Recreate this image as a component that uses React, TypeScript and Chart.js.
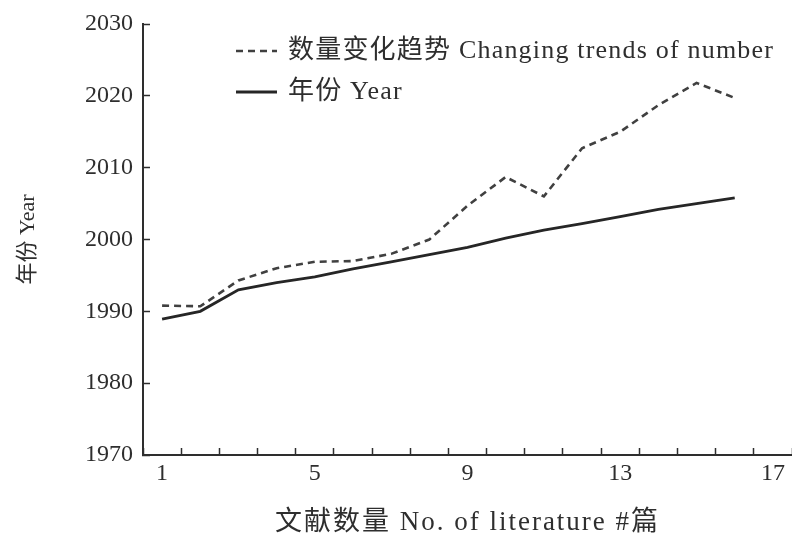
import React, { useEffect, useRef } from 'react';
import { Chart, registerables } from 'chart.js';

Chart.register(...registerables);

// ---- data ----
const categories = ['1', '2', '3', '4', '5', '6', '7', '8', '9', '10', '11', '12', '13', '14', '15', '16', '17'];
const shownXLabels = ['1', '5', '9', '13', '17'];
const trendValues = [1990.8, 1990.7, 1994.3, 1996.0, 1996.9, 1997.0, 1998.0, 2000.0, 2004.7, 2008.7, 2006.0, 2012.7, 2015.0, 2018.7, 2021.8, 2019.7];
const yearValues = [1988.9, 1990.0, 1993.0, 1994.0, 1994.8, 1995.9, 1996.9, 1997.9, 1998.9, 2000.2, 2001.3, 2002.2, 2003.2, 2004.2, 2005.0, 2005.8];
const yTickValues = [1970, 1980, 1990, 2000, 2010, 2020, 2030];
const seriesLabels = ['数量变化趋势 Changing trends of number', '年份 Year'];
const xTitle = '文献数量 No. of literature #篇';
const yTitle = '年份 Year';

const FONT = "'Liberation Serif', 'Noto Sans CJK SC', serif";
const INK = '#2e2e2e';

const legendPlugin = {
  id: 'insideLegend',
  afterDraw(chart: any) {
    const { ctx, chartArea } = chart;
    ctx.save();
    chart.data.datasets.forEach((ds: any, i: number) => {
      const y = chartArea.top + 27 + i * 41;
      const x0 = chartArea.left + 93;
      ctx.beginPath();
      ctx.setLineDash(ds.borderDash || []);
      ctx.strokeStyle = ds.borderColor;
      ctx.lineWidth = ds.borderWidth;
      ctx.moveTo(x0, y);
      ctx.lineTo(x0 + 41, y);
      ctx.stroke();
      ctx.setLineDash([]);
      ctx.fillStyle = INK;
      ctx.font = `26px ${FONT}`;
      (ctx as any).letterSpacing = '1.2px';
      ctx.textBaseline = 'middle';
      ctx.textAlign = 'left';
      ctx.fillText(ds.label, x0 + 52, y);
    });
    ctx.restore();
  },
};

function spacedTitle(scale: any, spacing: string) {
  if (scale.__spaced) return;
  const orig = scale.drawTitle;
  scale.drawTitle = function (...args: any[]) {
    const ctx = this.ctx;
    ctx.save();
    ctx.letterSpacing = spacing;
    orig.apply(this, args);
    ctx.restore();
  };
  scale.__spaced = true;
}

export default function App() {
  const canvasRef = useRef<HTMLCanvasElement | null>(null);

  useEffect(() => {
    document.body.style.margin = '0';
    const canvas = canvasRef.current;
    if (!canvas) return;
    const chart = new Chart(canvas, {
      type: 'line',
      data: {
        labels: categories,
        datasets: [
          {
            label: seriesLabels[0],
            data: trendValues,
            borderColor: '#404040',
            borderWidth: 2.6,
            borderDash: [7, 5],
            pointRadius: 0,
            tension: 0,
            fill: false,
          },
          {
            label: seriesLabels[1],
            data: yearValues,
            borderColor: '#262626',
            borderWidth: 2.8,
            pointRadius: 0,
            tension: 0,
            fill: false,
          },
        ],
      },
      options: {
        animation: false,
        responsive: true,
        maintainAspectRatio: false,
        layout: { padding: { left: 0, right: 0, top: 24, bottom: 0 } },
        plugins: {
          legend: { display: false },
          tooltip: { enabled: false },
        },
        scales: {
          x: {
            type: 'category',
            offset: true,
            grid: {
              offset: true,
              drawOnChartArea: false,
              drawTicks: true,
              tickLength: -7,
              tickColor: INK,
              tickWidth: 1.5,
            },
            border: { display: true, color: INK, width: 2 },
            ticks: {
              autoSkip: false,
              maxRotation: 0,
              padding: 11,
              color: INK,
              font: { family: FONT, size: 24 },
              callback: (_v: any, index: number) =>
                shownXLabels.includes(categories[index]) ? categories[index] : '',
            },
            title: {
              display: true,
              text: xTitle,
              color: INK,
              font: { family: FONT, size: 27 },
              padding: { top: 0, bottom: -3 },
            },
            afterFit: (scale: any) => {
              scale.height = 81;
              scale.paddingLeft = 0;
              scale.paddingRight = 0;
              spacedTitle(scale, '2px');
            },
          },
          y: {
            min: 1970,
            max: 2030,
            afterBuildTicks: (scale: any) => {
              scale.ticks = yTickValues.map((v) => ({ value: v }));
            },
            grid: {
              drawOnChartArea: false,
              drawTicks: true,
              tickLength: -7,
              tickColor: INK,
              tickWidth: 1.5,
            },
            border: { display: true, color: INK, width: 2 },
            ticks: {
              padding: 17,
              color: INK,
              font: { family: FONT, size: 24 },
              callback: (v: any) => String(v),
            },
            title: {
              display: true,
              text: yTitle,
              color: INK,
              font: { family: FONT, size: 22 },
              padding: { top: 15, bottom: 0 },
            },
            afterFit: (scale: any) => {
              scale.width = 143;
              scale.paddingTop = 0;
              scale.paddingBottom = 0;
            },
          },
        },
      },
      plugins: [legendPlugin],
    } as any);
    return () => chart.destroy();
  }, []);

  return (
    <div style={{ width: 792, height: 536, position: 'relative' }}>
      <canvas ref={canvasRef} />
    </div>
  );
}
